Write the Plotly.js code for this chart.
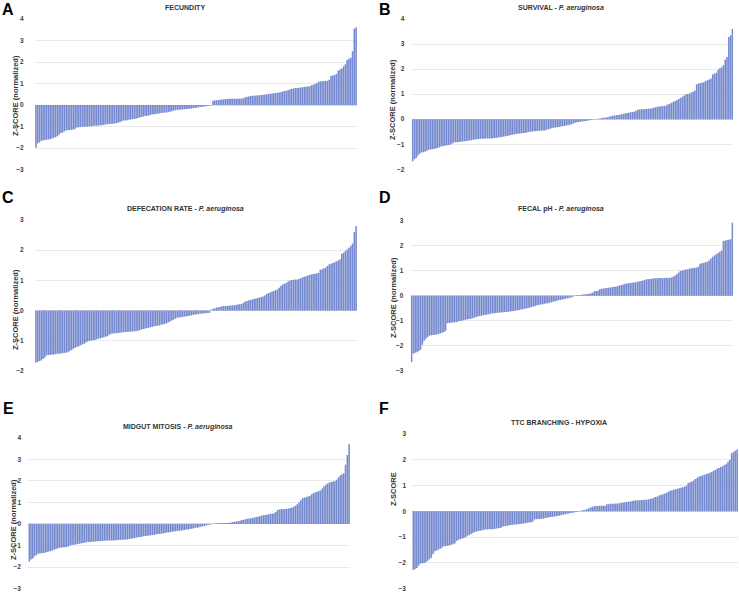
<!DOCTYPE html>
<html>
<head>
<meta charset="utf-8">
<script src="https://cdn.plot.ly/plotly-3.0.1.min.js"></script>
<style>html,body{margin:0;padding:0;background:#fff;}#chart{width:739px;height:592px;}</style>
</head>
<body>
<div id="chart"></div>
<script>
// Sorted z-scores per screen
const fecundity = [
-1.98,-1.78,-1.74,-1.66,-1.64,-1.62,-1.61,-1.60,-1.58,-1.55,
-1.52,-1.49,-1.45,-1.38,-1.30,-1.27,-1.21,-1.18,-1.17,-1.16,
-1.15,-1.14,-1.10,-1.04,-1.03,-1.02,-1.01,-1.01,-1.00,-0.99,
-0.98,-0.98,-0.97,-0.96,-0.96,-0.95,-0.94,-0.93,-0.91,-0.90,
-0.89,-0.88,-0.88,-0.87,-0.85,-0.83,-0.82,-0.79,-0.75,-0.72,
-0.71,-0.70,-0.68,-0.67,-0.66,-0.65,-0.62,-0.60,-0.57,-0.55,
-0.53,-0.51,-0.50,-0.48,-0.46,-0.44,-0.42,-0.41,-0.40,-0.39,
-0.37,-0.36,-0.35,-0.34,-0.33,-0.31,-0.28,-0.25,-0.24,-0.22,
-0.21,-0.20,-0.20,-0.19,-0.18,-0.18,-0.17,-0.16,-0.14,-0.13,
-0.12,-0.10,-0.09,-0.08,-0.06,-0.05,-0.04,-0.03,-0.01,0.20,
0.22,0.23,0.24,0.25,0.26,0.27,0.28,0.28,0.29,0.29,
0.30,0.30,0.30,0.30,0.31,0.31,0.32,0.37,0.39,0.40,
0.42,0.43,0.44,0.45,0.46,0.46,0.47,0.48,0.49,0.50,
0.52,0.53,0.54,0.55,0.56,0.58,0.59,0.61,0.63,0.65,
0.67,0.70,0.73,0.76,0.77,0.79,0.80,0.81,0.82,0.83,
0.84,0.85,0.86,0.88,0.92,0.95,0.98,1.03,1.08,1.10,
1.11,1.12,1.12,1.13,1.18,1.35,1.37,1.40,1.45,1.60,
1.66,1.70,1.80,1.90,2.10,2.15,2.20,2.50,3.55,3.62];

const survival = [
-1.68,-1.60,-1.55,-1.45,-1.38,-1.33,-1.32,-1.30,-1.26,-1.22,
-1.21,-1.20,-1.19,-1.17,-1.15,-1.12,-1.09,-1.07,-1.06,-1.05,
-1.03,-1.02,-0.98,-0.93,-0.92,-0.92,-0.91,-0.90,-0.89,-0.88,
-0.87,-0.86,-0.85,-0.84,-0.82,-0.81,-0.80,-0.79,-0.78,-0.78,
-0.78,-0.77,-0.77,-0.77,-0.77,-0.76,-0.75,-0.74,-0.73,-0.72,
-0.71,-0.69,-0.68,-0.67,-0.65,-0.63,-0.62,-0.60,-0.59,-0.58,
-0.57,-0.56,-0.55,-0.55,-0.53,-0.51,-0.50,-0.49,-0.48,-0.48,
-0.47,-0.46,-0.46,-0.45,-0.45,-0.42,-0.40,-0.38,-0.36,-0.34,
-0.33,-0.32,-0.31,-0.29,-0.28,-0.27,-0.25,-0.24,-0.22,-0.20,
-0.17,-0.14,-0.12,-0.11,-0.10,-0.09,-0.08,-0.07,-0.06,-0.04,
-0.03,-0.02,-0.01,0.01,0.02,0.03,0.05,0.06,0.07,0.08,
0.10,0.12,0.14,0.15,0.16,0.17,0.18,0.20,0.22,0.23,
0.25,0.26,0.28,0.29,0.30,0.34,0.38,0.39,0.40,0.40,
0.41,0.41,0.42,0.42,0.44,0.46,0.48,0.50,0.51,0.52,
0.53,0.53,0.55,0.60,0.62,0.66,0.70,0.73,0.77,0.81,
0.85,0.90,0.95,1.00,1.01,1.03,1.07,1.10,1.15,1.40,
1.43,1.45,1.46,1.48,1.52,1.55,1.58,1.62,1.78,1.82,
1.85,1.97,2.03,2.07,2.15,2.38,2.48,3.28,3.35,3.60];

const defecation = [
-1.72,-1.70,-1.67,-1.65,-1.60,-1.55,-1.48,-1.47,-1.46,-1.46,
-1.45,-1.44,-1.43,-1.43,-1.42,-1.41,-1.40,-1.39,-1.38,-1.34,
-1.30,-1.26,-1.23,-1.20,-1.18,-1.15,-1.12,-1.10,-1.06,-1.02,
-1.00,-0.99,-0.98,-0.97,-0.95,-0.93,-0.92,-0.90,-0.88,-0.86,
-0.85,-0.80,-0.77,-0.76,-0.75,-0.75,-0.74,-0.73,-0.72,-0.72,
-0.71,-0.71,-0.70,-0.70,-0.69,-0.69,-0.68,-0.67,-0.65,-0.63,
-0.61,-0.60,-0.58,-0.57,-0.55,-0.54,-0.52,-0.51,-0.50,-0.49,
-0.47,-0.46,-0.44,-0.42,-0.39,-0.36,-0.33,-0.30,-0.27,-0.24,
-0.23,-0.22,-0.21,-0.20,-0.19,-0.18,-0.17,-0.16,-0.14,-0.13,
-0.12,-0.11,-0.10,-0.10,-0.09,-0.09,-0.08,-0.08,0.03,0.06,
0.08,0.10,0.11,0.12,0.14,0.15,0.15,0.16,0.16,0.17,
0.17,0.18,0.19,0.20,0.21,0.22,0.26,0.30,0.32,0.34,
0.36,0.37,0.38,0.40,0.42,0.43,0.45,0.47,0.50,0.55,
0.58,0.60,0.63,0.65,0.68,0.70,0.76,0.82,0.87,0.89,
0.92,0.96,1.00,1.01,1.02,1.03,1.03,1.05,1.07,1.10,
1.12,1.14,1.16,1.18,1.20,1.21,1.22,1.23,1.25,1.35,
1.37,1.40,1.42,1.48,1.53,1.55,1.58,1.60,1.63,1.66,
1.70,1.88,1.92,1.97,2.02,2.08,2.15,2.22,2.60,2.80];

const fecalPH = [
-2.65,-2.30,-2.27,-2.25,-2.20,-2.15,-1.95,-1.80,-1.72,-1.65,
-1.60,-1.58,-1.57,-1.56,-1.55,-1.53,-1.50,-1.48,-1.45,-1.40,
-1.10,-1.09,-1.08,-1.07,-1.06,-1.05,-1.03,-1.01,-1.00,-0.98,
-0.96,-0.95,-0.93,-0.92,-0.90,-0.88,-0.85,-0.83,-0.81,-0.80,
-0.78,-0.77,-0.75,-0.74,-0.72,-0.71,-0.70,-0.69,-0.68,-0.67,
-0.67,-0.66,-0.65,-0.65,-0.64,-0.63,-0.62,-0.61,-0.60,-0.58,
-0.57,-0.55,-0.54,-0.52,-0.51,-0.49,-0.47,-0.45,-0.43,-0.41,
-0.38,-0.37,-0.35,-0.34,-0.32,-0.31,-0.30,-0.28,-0.26,-0.24,
-0.22,-0.20,-0.18,-0.17,-0.15,-0.14,-0.12,-0.10,-0.09,-0.07,
-0.04,-0.01,0.02,0.03,0.03,0.04,0.05,0.06,0.07,0.08,
0.10,0.12,0.18,0.19,0.20,0.25,0.27,0.28,0.29,0.30,
0.31,0.32,0.34,0.35,0.35,0.38,0.40,0.42,0.44,0.46,
0.48,0.49,0.50,0.51,0.52,0.53,0.55,0.56,0.58,0.60,
0.62,0.65,0.65,0.66,0.67,0.68,0.69,0.69,0.70,0.70,
0.70,0.70,0.71,0.71,0.71,0.72,0.75,0.80,0.85,0.92,
0.98,1.00,1.02,1.04,1.05,1.07,1.09,1.10,1.11,1.12,
1.15,1.27,1.29,1.31,1.33,1.35,1.40,1.48,1.55,1.60,
1.65,1.70,1.75,1.80,2.18,2.20,2.22,2.23,2.25,2.90];

const mitosis = [
-1.75,-1.65,-1.60,-1.50,-1.45,-1.38,-1.37,-1.36,-1.35,-1.33,
-1.30,-1.28,-1.26,-1.23,-1.20,-1.16,-1.12,-1.10,-1.09,-1.08,
-1.08,-1.07,-1.03,-1.00,-0.97,-0.96,-0.95,-0.93,-0.92,-0.90,
-0.88,-0.87,-0.85,-0.84,-0.83,-0.82,-0.82,-0.81,-0.80,-0.80,
-0.79,-0.79,-0.78,-0.78,-0.77,-0.77,-0.76,-0.76,-0.75,-0.75,
-0.74,-0.74,-0.73,-0.73,-0.72,-0.72,-0.70,-0.68,-0.67,-0.65,
-0.63,-0.62,-0.60,-0.59,-0.57,-0.56,-0.55,-0.54,-0.52,-0.51,
-0.50,-0.49,-0.47,-0.46,-0.45,-0.43,-0.42,-0.40,-0.39,-0.37,
-0.36,-0.35,-0.34,-0.32,-0.31,-0.30,-0.29,-0.28,-0.26,-0.25,
-0.23,-0.22,-0.20,-0.18,-0.17,-0.15,-0.13,-0.11,-0.09,-0.07,
-0.05,-0.03,-0.01,0.01,0.02,0.02,0.03,0.03,0.04,0.04,
0.05,0.05,0.06,0.07,0.09,0.10,0.11,0.13,0.15,0.18,
0.20,0.22,0.24,0.25,0.27,0.28,0.30,0.32,0.34,0.36,
0.38,0.40,0.42,0.43,0.45,0.47,0.48,0.50,0.55,0.65,
0.67,0.68,0.69,0.70,0.71,0.72,0.74,0.75,0.80,0.85,
0.92,1.00,1.10,1.20,1.22,1.25,1.27,1.30,1.38,1.42,
1.46,1.50,1.53,1.55,1.65,1.75,1.82,1.88,1.92,1.95,
1.97,1.98,2.05,2.15,2.25,2.30,2.35,2.75,3.20,3.70];

const branching = [
-2.27,-2.24,-2.20,-2.10,-2.02,-2.01,-2.00,-1.97,-1.92,-1.86,
-1.80,-1.65,-1.55,-1.52,-1.48,-1.45,-1.40,-1.35,-1.34,-1.33,
-1.32,-1.30,-1.28,-1.25,-1.15,-1.10,-1.08,-1.05,-1.03,-0.99,
-0.95,-0.92,-0.88,-0.84,-0.80,-0.78,-0.76,-0.75,-0.73,-0.71,
-0.70,-0.70,-0.69,-0.69,-0.68,-0.68,-0.67,-0.66,-0.65,-0.62,
-0.58,-0.57,-0.56,-0.55,-0.53,-0.52,-0.51,-0.51,-0.50,-0.49,
-0.48,-0.47,-0.46,-0.44,-0.43,-0.42,-0.40,-0.32,-0.31,-0.30,
-0.30,-0.29,-0.28,-0.26,-0.25,-0.23,-0.22,-0.21,-0.20,-0.19,
-0.18,-0.16,-0.14,-0.12,-0.11,-0.09,-0.08,-0.06,-0.05,-0.04,
-0.03,-0.02,-0.01,0.02,0.05,0.06,0.08,0.12,0.15,0.18,
0.20,0.21,0.21,0.22,0.22,0.22,0.22,0.28,0.28,0.29,
0.29,0.29,0.30,0.30,0.31,0.33,0.34,0.35,0.36,0.37,
0.38,0.40,0.42,0.42,0.43,0.43,0.44,0.44,0.45,0.45,
0.47,0.48,0.50,0.53,0.56,0.58,0.61,0.64,0.66,0.68,
0.72,0.76,0.80,0.82,0.84,0.86,0.88,0.90,0.92,0.93,
0.95,1.00,1.10,1.13,1.16,1.20,1.25,1.30,1.35,1.37,
1.40,1.42,1.45,1.47,1.50,1.53,1.57,1.60,1.65,1.68,
1.72,1.75,1.80,1.85,1.92,2.00,2.25,2.30,2.35,2.40];

const panelLetters = ['A','B','C','D','E','F'];
const panelTitles = [
  '<b>FECUNDITY</b>',
  '<b>SURVIVAL - <i>P. aeruginosa</i></b>',
  '<b>DEFECATION RATE - <i>P. aeruginosa</i></b>',
  '<b>FECAL pH - <i>P. aeruginosa</i></b>',
  '<b>MIDGUT MITOSIS - <i>P. aeruginosa</i></b>',
  '<b>TTC BRANCHING - HYPOXIA</b>'
];
const yTitles = ['Z-SCORE (normalized)','Z-SCORE (normalized)','Z-SCORE (normalized)',
                 'Z-SCORE (normalized)','Z-SCORE (normalized)','Z-SCORE'];
const seriesList = [fecundity, survival, defecation, fecalPH, mitosis, branching];

// layout config (pixel positions in a 739x592 page)
const W = 739, H = 592;
const panels = [
  {x0:35,   x1:357,   yTop:19,    yBot:169.7, r:[-3,4], tl:9, letter:[8,9],    title:[185,8],   yt:[15,96]},
  {x0:411.7,x1:733.3, yTop:19,    yBot:169.3, r:[-2,4], tl:5, letter:[385,9],  title:[561,8],   yt:[393,100]},
  {x0:35,   x1:357,   yTop:220,   yBot:371,   r:[-2,3], tl:9, letter:[8,198],  title:[185,209], yt:[15,310]},
  {x0:410.7,x1:733.3, yTop:220.3, yBot:371,   r:[-3,3], tl:5, letter:[385,198],title:[561,209], yt:[393,298]},
  {x0:28.3, x1:350,   yTop:437.7, yBot:588.7, r:[-3,4], tl:5, letter:[8,408],  title:[178,427], yt:[13,520]},
  {x0:412.3,x1:738,   yTop:434,   yBot:588.7, r:[-3,3], tl:4, letter:[384,408],title:[559,422], yt:[393,489]}
];

const barColor = '#7589cf';
const tickFont = {family:'Liberation Sans, Arial, sans-serif', size:6.5, color:'#404040', weight:700};
const traces = [];
const layout = {
  width: W, height: H,
  margin: {l:0, r:0, t:0, b:0},
  paper_bgcolor:'#ffffff', plot_bgcolor:'#ffffff',
  showlegend:false, bargap:0.12,
  annotations: []
};
const px2x = v => v / W;
const px2y = v => 1 - v / H;

panels.forEach((p, i) => {
  const k = i === 0 ? '' : String(i + 1);
  const vals = seriesList[i];
  traces.push({
    type:'bar', y: vals,
    xaxis:'x' + k, yaxis:'y' + k,
    marker:{color: barColor, line:{width:0}},
    hoverinfo:'y'
  });
  layout['xaxis' + k] = {
    domain:[px2x(p.x0), px2x(p.x1)], anchor:'y' + k,
    range:[-0.5, vals.length - 0.5],
    showticklabels:false, showgrid:false, zeroline:false, showline:false, ticks:''
  };
  layout['yaxis' + k] = {
    domain:[px2y(p.yBot), px2y(p.yTop)], anchor:'x' + k,
    range:p.r, dtick:1, tick0:0,
    showgrid:true, gridcolor:'#e4e4e4', gridwidth:0.8,
    zeroline:true, zerolinecolor:'#d0d0d0', zerolinewidth:0.8,
    showline:false, ticks:'outside', ticklen:p.tl, tickcolor:'rgba(0,0,0,0)',
    tickfont: tickFont
  };
  layout.annotations.push({
    xref:'paper', yref:'paper', x:px2x(p.letter[0]), y:px2y(p.letter[1]),
    xanchor:'center', yanchor:'middle', showarrow:false,
    text:'<b>' + panelLetters[i] + '</b>',
    font:{family:'Liberation Sans, Arial, sans-serif', size:16, color:'#000000'}
  });
  layout.annotations.push({
    xref:'paper', yref:'paper', x:px2x(p.title[0]), y:px2y(p.title[1]),
    xanchor:'center', yanchor:'middle', showarrow:false,
    text:panelTitles[i],
    font:{family:'Liberation Sans, Arial, sans-serif', size:7, color:'#333333'}
  });
  layout.annotations.push({
    xref:'paper', yref:'paper', x:px2x(p.yt[0]), y:px2y(p.yt[1]),
    xanchor:'center', yanchor:'middle', showarrow:false, textangle:-90,
    text:'<b>' + yTitles[i] + '</b>',
    font:{family:'Liberation Sans, Arial, sans-serif', size:7.5, color:'#333333'}
  });
});

Plotly.newPlot('chart', traces, layout, {displayModeBar:false, staticPlot:true});
</script>
</body>
</html>
